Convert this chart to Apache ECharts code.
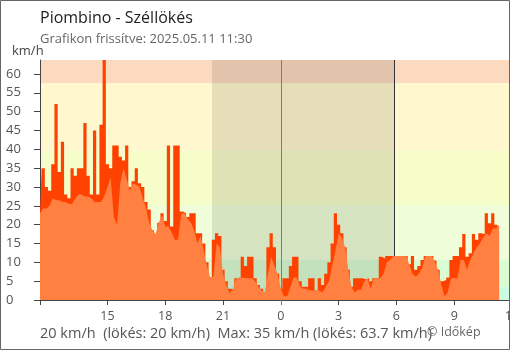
<!DOCTYPE html>
<html><head><meta charset="utf-8">
<script src="https://cdn.jsdelivr.net/npm/echarts@6/dist/echarts.min.js"></script>
<style>html,body{margin:0;padding:0;background:#fff}#c{width:510px;height:350px}</style>
</head><body><div id="c"></div>
<script>
// time of first sample (hours, 11:30 previous day) and sample step (10 min)
const START_HOUR = 11.5;
const STEP_HOUR = 1 / 6;
// wind speed (km/h), every 10 minutes
const speed = [
23, 24.3, 24.3, 25, 27, 26.5, 26.5, 26, 26, 25.5,
25.5, 27, 28, 28, 27.5, 27.5, 27, 26, 26, 26,
27.5, 30, 32.5, 22, 20, 31, 35, 32, 29, 31,
30.5, 30, 27, 24.5, 20.5, 18.5, 17.5, 20.5, 22.5, 19.5,
19.5, 18, 16, 16, 23, 23, 21.5, 20.5, 18.5, 15,
17, 13, 9, 6, 6.2, 15, 14, 7, 4, 1.8,
2.7, 5.5, 6, 6, 5.8, 5.8, 5.8, 5, 3.5, 2.5,
2, 7, 11.5, 9, 7, 3, 1, 1, 3.5, 6,
6, 3.5, 3, 3, 2.5, 2.5, 2.5, 2.5, 2, 3.5,
5, 9, 13, 17.7, 16.5, 14, 8, 3.5, 2, 2.7,
2.7, 5, 5.8, 3, 5.8, 5.8, 5.8, 7, 10, 10.6,
11.7, 11.7, 11.7, 11.7, 11.7, 9.5, 7, 6.2, 7, 8.5,
11.7, 11.7, 11.7, 10, 8, 4, 1, 2, 5.8, 5.8,
5.8, 10.6, 10.6, 8, 10.6, 12.4, 14, 15, 16.5, 17.7,
17, 19, 19, 20
];
// wind gust (km/h), every 10 minutes
const gust = [
23, 35, 30, 29, 36, 52, 34, 42, 28, 27,
35, 33, 35, 35, 47, 33, 28, 45, 28, 46.5,
63.7, 36, 35, 41, 41, 38, 37, 41, 30, 31.5,
35, 31, 30, 26, 24, 18.5, 17.5, 20.5, 23, 21,
41, 19.5, 41, 41, 23.5, 23, 22, 23, 23, 17.7,
17.7, 15, 10, 6, 16, 17.7, 17, 8, 5, 3,
2.7, 5.8, 6, 11.5, 9, 11.5, 11.5, 5.8, 4, 3,
2, 14, 17.7, 14, 7, 3, 5.8, 5.8, 9, 11.5,
11.5, 5, 3.5, 3.5, 5.8, 5.8, 2.5, 5.8, 4, 7,
10, 15, 23, 20, 17.7, 14, 8, 3.5, 5.8, 5.8,
5.8, 5.5, 5.8, 5, 5.8, 5.8, 11.5, 11, 11.7, 11.7,
11.7, 11.7, 11.7, 11.7, 11.7, 9.5, 11.7, 8, 9, 10.6,
11.7, 11.7, 11.7, 10.5, 8, 5, 5.3, 6, 10.6, 11.7,
11.7, 14, 17.5, 11.5, 12.4, 17.5, 16, 17.7, 17.5, 23,
20.4, 23, 20, 20
];
// x axis: hours (24 = midnight)
const X_MIN = 11.5, X_MAX = 36;
const tickHours = [11.5, 15, 18, 21, 24, 27, 30, 33, 36];
const labelHours = [15, 18, 21, 24, 27, 30, 33, 36];
const Y_MAX = 63.7;
const yTicks = 5;
// wind-scale background bands (km/h)
const bandEdges = [0, 3.6, 10.8, 25.2, 39.6, 57.6, 63.7];
const bandColors = ['#c8fbe0', '#dafcd2', '#effed9', '#f6fdc9', '#fff8ce', '#fcdabf'];
// night (sunset -> sunrise), max-gust time and sunrise markers, midnight marker
const night = [20.43, 29.88];
const darkMarks = [14.77, 29.88];
const midnight = 24;
const texts = {
  title: 'Piombino - Széllökés',
  sub: 'Grafikon frissítve: 2025.05.11 11:30',
  unit: 'km/h',
  footer: '20 km/h  (lökés: 20 km/h)  Max: 35 km/h (lökés: 63.7 km/h)',
  copy: '© Időkép'
};

const toPairs = arr => arr.map((v, i) => [START_HOUR + i * STEP_HOUR, v]);
const FONT = 'Open Sans';

const chart = echarts.init(document.getElementById('c'), null, {renderer: 'canvas'});
chart.setOption({
  animation: false,
  backgroundColor: '#fff',
  textStyle: {fontFamily: FONT},
  title: [
    {text: texts.title, left: 40, top: 10.5, padding: 0, textStyle: {fontFamily: FONT, fontSize: 16, fontWeight: 'normal', color: '#222'}},
    {text: texts.sub, left: 40, top: 32.5, padding: 0, textStyle: {fontFamily: FONT, fontSize: 13, fontWeight: 'normal', color: '#666'}}
  ],
  grid: {left: 40, top: 60, right: -2, bottom: 50, containLabel: false, outerBoundsMode: 'none'},
  xAxis: [{
    type: 'value', min: X_MIN, max: X_MAX, z: 2.5,
    axisLine: {show: true, lineStyle: {color: '#444', width: 1}},
    axisTick: {show: true, length: 5, lineStyle: {color: '#444'}, customValues: tickHours},
    axisLabel: {show: true, customValues: labelHours, margin: 9.5, color: '#555', fontSize: 12.5, fontFamily: FONT,
      hideOverlap: false, formatter: v => String(Math.round(v) % 24)},
    splitLine: {show: false}
  }, {
    type: 'value', min: X_MIN, max: X_MAX, position: 'bottom', z: 2.6,
    axisLine: {show: false},
    axisTick: {show: true, length: 5, lineStyle: {color: '#3a8fd0'}, customValues: [midnight]},
    axisLabel: {show: false}, splitLine: {show: false}
  }],
  yAxis: {
    type: 'value', min: 0, max: Y_MAX, interval: yTicks, z: 2.5,
    axisLine: {show: true, lineStyle: {color: '#444', width: 1}},
    axisTick: {show: true, length: 6, lineStyle: {color: '#444'}},
    axisLabel: {show: true, align: 'left', margin: 34, color: '#555', fontSize: 13, fontFamily: FONT,
      showMaxLabel: false},
    splitLine: {show: false}
  },
  graphic: [
    {type: 'text', left: 12, top: 45, style: {text: texts.unit, fill: '#444', fontSize: 13, fontFamily: FONT}},
    {type: 'text', left: 40, top: 326.5, style: {text: texts.footer, fill: '#555', fontSize: 14.5, fontFamily: FONT}},
    {type: 'text', left: 427, top: 326, style: {text: texts.copy, fill: '#666', fontSize: 12.5, fontFamily: FONT}},
    {type: 'rect', shape: {x: 0.5, y: 0.5, width: 509, height: 349}, style: {fill: 'none', stroke: '#666', lineWidth: 1}, silent: true, z: 100}
  ],
  series: [
    {
      type: 'line', data: [], z: 1, silent: true,
      markArea: {silent: true, z: 1, itemStyle: {opacity: 1},
        data: bandColors.map((c, i) => [{yAxis: bandEdges[i], itemStyle: {color: c}}, {yAxis: bandEdges[i + 1]}])}
    },
    {
      type: 'line', data: [], z: 1, silent: true,
      markArea: {silent: true, z: 1.5,
        data: [[{xAxis: night[0], itemStyle: {color: 'rgba(0,0,0,0.1)'}}, {xAxis: night[1]}]]},
      markLine: {silent: true, z: 1.6, symbol: 'none', label: {show: false},
        lineStyle: {color: '#333', width: 1, type: 'solid'},
        data: darkMarks.map(h => ({xAxis: h}))}
    },
    {
      type: 'line', data: [], z: 1, silent: true,
      markLine: {silent: true, z: 1.7, symbol: 'none', label: {show: false},
        lineStyle: {color: '#3a8fd0', width: 1, type: 'solid'},
        data: [{xAxis: midnight}]}
    },
    {
      name: 'lökés', type: 'line', data: toPairs(gust), z: 3, showSymbol: false, silent: true, step: 'middle',
      lineStyle: {width: 0}, areaStyle: {color: '#ff4200', opacity: 1}
    },
    {
      name: 'szél', type: 'line', data: toPairs(speed), z: 4, showSymbol: false, silent: true,
      lineStyle: {width: 0}, areaStyle: {color: '#ff8040', opacity: 1}
    }
  ]
});
</script></body></html>
